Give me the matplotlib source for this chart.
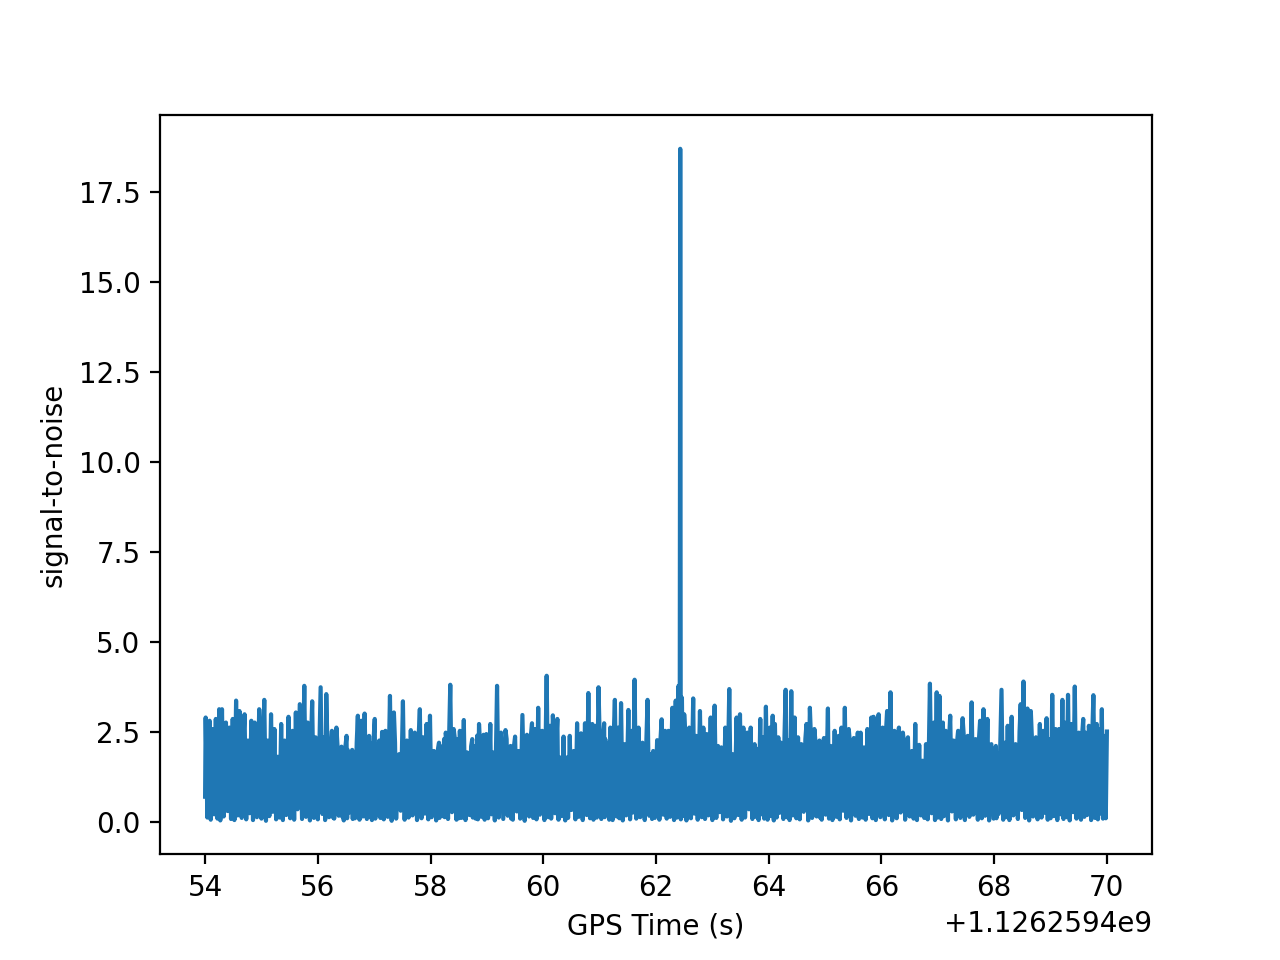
import numpy as np
import matplotlib
matplotlib.use("Agg")
import matplotlib.pyplot as plt

# GPS epoch of the segment; times below are seconds after it
GPS_BASE = 1126259400

# local maxima of the SNR trace
peak_t = [
    54.01, 54.08, 54.13, 54.19, 54.25, 54.30, 54.37, 54.43, 54.49, 54.55, 54.61, 54.70, 54.76, 54.82, 54.88, 54.96,
    55.05, 55.11, 55.17, 55.23, 55.29, 55.35, 55.41, 55.48, 55.55, 55.61, 55.68, 55.76, 55.82, 55.90, 55.96,
    56.05, 56.11, 56.15, 56.25, 56.33, 56.42, 56.51, 56.61, 56.71, 56.77, 56.83, 56.91,
    57.01, 57.09, 57.14, 57.20, 57.28, 57.35, 57.44, 57.51, 57.58, 57.65, 57.72, 57.81, 57.87, 57.93, 57.99,
    58.06, 58.15, 58.27, 58.35, 58.41, 58.52, 58.59, 58.65, 58.74, 58.86, 58.94, 58.99,
    59.06, 59.11, 59.18, 59.25, 59.33, 59.42, 59.50, 59.56, 59.63, 59.71, 59.80, 59.85, 59.91, 59.98,
    60.06, 60.12, 60.17, 60.25, 60.30, 60.36, 60.42, 60.47, 60.54, 60.60, 60.67, 60.74, 60.80, 60.87, 60.92, 60.98,
    61.08, 61.19, 61.27, 61.33, 61.38, 61.44, 61.51, 61.57, 61.62, 61.69, 61.76, 61.85, 61.91, 61.95,
    62.02, 62.10, 62.16, 62.22, 62.29, 62.35, 62.40, 62.43, 62.46, 62.50, 62.59, 62.66, 62.71, 62.78, 62.84, 62.90, 62.97,
    63.04, 63.10, 63.16, 63.23, 63.30, 63.36, 63.43, 63.49, 63.55, 63.62, 63.68, 63.75, 63.79, 63.85, 63.90, 63.95,
    64.02, 64.07, 64.11, 64.17, 64.22, 64.30, 64.35, 64.40, 64.46, 64.52, 64.58, 64.67, 64.73, 64.81, 64.90, 64.98,
    65.05, 65.10, 65.17, 65.24, 65.29, 65.35, 65.42, 65.51, 65.58, 65.63, 65.69, 65.75, 65.82, 65.86, 65.95,
    66.02, 66.10, 66.16, 66.23, 66.31, 66.38, 66.47, 66.54, 66.60, 66.67, 66.73, 66.79, 66.86, 66.93, 66.98,
    67.03, 67.09, 67.14, 67.22, 67.28, 67.36, 67.44, 67.53, 67.60, 67.67, 67.75, 67.81, 67.88, 67.95,
    68.03, 68.13, 68.19, 68.24, 68.31, 68.38, 68.47, 68.52, 68.59, 68.65, 68.74, 68.81, 68.87, 68.93, 68.97,
    69.03, 69.09, 69.15, 69.21, 69.25, 69.31, 69.37, 69.43, 69.50, 69.58, 69.62, 69.68, 69.76, 69.82, 69.86, 69.91, 69.95, 70.00,
]
peak_snr = [
    2.90, 2.81, 2.58, 2.86, 3.13, 3.13, 2.76, 2.62, 2.86, 3.37, 3.08, 2.99, 2.26, 2.81, 2.76, 3.13,
    3.39, 2.26, 2.99, 2.58, 1.81, 2.72, 2.26, 2.92, 2.53, 3.04, 3.27, 3.78, 2.76, 3.35, 2.35,
    3.74, 2.35, 3.55, 2.53, 2.62, 2.09, 2.39, 2.00, 2.95, 2.81, 3.01, 2.39,
    2.86, 2.26, 2.50, 2.53, 3.50, 3.04, 1.88, 3.35, 2.26, 2.55, 2.48, 3.13, 2.35, 2.72, 2.95,
    1.97, 2.20, 2.48, 3.81, 2.58, 2.53, 2.83, 1.93, 2.30, 2.72, 2.42, 2.44,
    2.72, 1.93, 3.78, 2.48, 2.55, 2.11, 2.37, 1.97, 2.97, 2.42, 2.74, 2.58, 3.17, 2.53,
    4.06, 2.67, 2.96, 2.86, 1.79, 2.37, 1.79, 2.39, 1.97, 2.74, 2.46, 2.74, 3.58, 2.72, 2.67, 3.74,
    2.74, 2.62, 3.39, 2.62, 3.30, 2.16, 3.11, 2.53, 3.95, 2.62, 2.20, 3.39, 1.88, 1.97,
    2.27, 2.85, 2.53, 2.53, 3.17, 3.37, 3.78, 18.70, 3.45, 2.99, 2.62, 3.43, 2.39, 3.08, 2.62, 2.44, 2.90,
    3.23, 2.11, 2.07, 2.62, 3.69, 1.88, 2.90, 2.99, 2.62, 2.48, 2.62, 2.16, 2.03, 2.86, 2.35, 3.20,
    2.62, 2.95, 2.72, 2.35, 2.20, 3.67, 2.26, 3.63, 2.90, 2.35, 2.16, 2.72, 3.17, 2.58, 2.26, 2.33,
    3.15, 2.11, 2.53, 2.39, 2.62, 3.17, 2.58, 2.33, 2.48, 2.48, 2.07, 2.58, 2.90, 2.92, 2.99,
    2.62, 3.08, 3.60, 2.53, 2.62, 2.48, 2.35, 1.97, 2.72, 2.14, 1.70, 2.16, 3.84, 2.76, 3.60,
    3.50, 2.76, 2.53, 2.95, 2.26, 2.53, 2.88, 2.39, 3.32, 2.30, 2.81, 3.13, 2.86, 2.16,
    2.11, 3.67, 2.20, 2.67, 2.92, 2.16, 3.27, 3.90, 3.15, 3.08, 2.35, 2.72, 2.53, 2.88, 2.30,
    3.53, 2.58, 2.58, 3.39, 2.76, 3.53, 2.72, 3.76, 2.48, 2.86, 2.48, 2.67, 3.52, 2.72, 2.58, 3.13, 2.39, 2.51,
]

# smaller maxima inside the wider gaps, where the band stays filled
shoulder_t = [
    54.63, 54.675, 54.98, 55.03, 55.84, 55.88, 55.98, 56.03, 56.17, 56.23, 56.28, 56.35, 56.40,
    56.44, 56.49, 56.53, 56.59, 56.63, 56.69, 56.93, 56.99, 57.03, 57.07, 57.37, 57.42,
    57.74, 57.79, 58.08, 58.13, 58.18, 58.24, 58.29, 58.33, 58.44, 58.49, 58.67, 58.72,
    58.77, 58.83, 58.88, 58.92, 59.35, 59.40, 59.44, 59.48, 59.73, 59.78, 60.19, 60.23,
    61.00, 61.06, 61.10, 61.16, 61.21, 61.25, 61.78, 61.83, 62.04, 62.08, 62.52, 62.57,
    64.24, 64.28, 64.60, 64.65, 64.75, 64.79, 64.83, 64.88, 64.92, 64.96, 65.44, 65.49,
    65.88, 65.93, 66.04, 66.08, 66.25, 66.29, 66.40, 66.45, 67.16, 67.20, 67.30, 67.34,
    67.38, 67.42, 67.46, 67.51, 67.69, 67.73, 68.05, 68.11, 68.40, 68.45, 68.67, 68.72,
    69.52, 69.56, 69.70, 69.74,
]
shoulder_snr = [
    2.30, 2.10, 2.40, 2.20, 2.20, 2.30, 2.00, 2.30, 2.20, 2.00, 1.70, 2.10, 1.90,
    1.90, 2.10, 2.00, 1.80, 1.90, 2.20, 2.20, 2.30, 2.10, 2.00, 2.20, 1.80,
    2.20, 2.40, 1.90, 2.00, 2.10, 2.30, 2.20, 2.40, 2.20, 2.30, 1.90, 2.10,
    2.10, 2.40, 2.10, 2.20, 2.30, 1.80, 1.90, 2.10, 2.20, 2.40, 2.30, 2.20,
    2.40, 2.30, 2.30, 2.20, 2.10, 2.40, 2.00, 2.30, 2.00, 2.30, 2.40, 2.30,
    2.00, 2.40, 2.00, 2.30, 2.30, 2.10, 2.20, 2.00, 2.00, 2.10, 2.20, 2.10,
    2.40, 2.50, 2.30, 2.50, 2.20, 2.30, 2.20, 2.10, 2.20, 2.30, 2.10, 2.20,
    2.30, 2.40, 2.40, 2.10, 2.00, 2.30, 1.90, 2.30, 2.00, 2.50, 2.30, 2.20,
    2.20, 2.40, 2.30, 2.40,
]

# local minima between the peaks
trough_t = [
    54.00, 54.04, 54.10, 54.16, 54.22, 54.27, 54.33, 54.40, 54.46, 54.52, 54.58, 54.65, 54.73, 54.79, 54.85, 54.92,
    55.00, 55.08, 55.14, 55.20, 55.26, 55.32, 55.38, 55.44, 55.51, 55.58, 55.64, 55.72, 55.79, 55.86, 55.93,
    56.00, 56.08, 56.13, 56.20, 56.29, 56.37, 56.46, 56.56, 56.66, 56.74, 56.80, 56.87,
    56.96, 57.05, 57.11, 57.17, 57.24, 57.31, 57.39, 57.47, 57.54, 57.61, 57.68, 57.76, 57.84, 57.90, 57.96,
    58.02, 58.10, 58.21, 58.31, 58.38, 58.46, 58.55, 58.62, 58.69, 58.80, 58.90, 58.96,
    59.02, 59.08, 59.14, 59.21, 59.29, 59.37, 59.46, 59.53, 59.59, 59.67, 59.75, 59.82, 59.88, 59.94,
    60.02, 60.09, 60.14, 60.21, 60.27, 60.33, 60.39, 60.44, 60.50, 60.57, 60.63, 60.70, 60.77, 60.83, 60.89, 60.95,
    61.03, 61.13, 61.23, 61.30, 61.35, 61.41, 61.47, 61.54, 61.59, 61.65, 61.72, 61.80, 61.88, 61.93,
    61.98, 62.06, 62.13, 62.19, 62.25, 62.32, 62.37, 62.42, 62.44, 62.48, 62.54, 62.62, 62.68, 62.74, 62.81, 62.87, 62.93,
    63.00, 63.07, 63.13, 63.19, 63.26, 63.33, 63.39, 63.46, 63.52, 63.58, 63.65, 63.71, 63.77, 63.82, 63.87, 63.92,
    63.98, 64.04, 64.09, 64.14, 64.19, 64.26, 64.32, 64.37, 64.43, 64.49, 64.55, 64.62, 64.70, 64.77, 64.85, 64.94,
    65.01, 65.07, 65.13, 65.20, 65.26, 65.32, 65.38, 65.46, 65.54, 65.60, 65.66, 65.72, 65.78, 65.84, 65.90,
    65.98, 66.06, 66.13, 66.19, 66.27, 66.34, 66.42, 66.50, 66.57, 66.63, 66.70, 66.76, 66.82, 66.89, 66.95,
    67.00, 67.06, 67.11, 67.18, 67.25, 67.32, 67.40, 67.48, 67.56, 67.63, 67.71, 67.78, 67.84, 67.91,
    67.99, 68.08, 68.16, 68.21, 68.27, 68.34, 68.42, 68.49, 68.55, 68.62, 68.69, 68.77, 68.84, 68.90, 68.95,
    69.00, 69.06, 69.12, 69.18, 69.23, 69.28, 69.34, 69.40, 69.46, 69.54, 69.60, 69.65, 69.72, 69.79, 69.84, 69.88, 69.93, 69.98,
]
trough_snr = [
    0.70, 0.12, 0.06, 0.21, 0.09, 0.04, 0.15, 0.30, 0.08, 0.05, 0.18, 0.11, 0.07, 0.24, 0.05, 0.13,
    0.09, 0.03, 0.16, 0.28, 0.07, 0.12, 0.05, 0.19, 0.10, 0.06, 0.35, 0.08, 0.14, 0.04, 0.11,
    0.07, 0.22, 0.05, 0.13, 0.09, 0.17, 0.04, 0.26, 0.10, 0.06, 0.15, 0.08,
    0.05, 0.20, 0.11, 0.07, 0.14, 0.03, 0.09, 0.31, 0.06, 0.12, 0.18, 0.05, 0.10, 0.23, 0.07,
    0.13, 0.04, 0.16, 0.08, 0.27, 0.06, 0.11, 0.05, 0.19, 0.09, 0.14, 0.06,
    0.10, 0.21, 0.04, 0.12, 0.08, 0.17, 0.06, 0.29, 0.09, 0.03, 0.15, 0.11, 0.07, 0.20,
    0.05, 0.13, 0.09, 0.24, 0.06, 0.16, 0.04, 0.11, 0.33, 0.07, 0.14, 0.05, 0.19, 0.10, 0.06, 0.12,
    0.08, 0.22, 0.05, 0.15, 0.10, 0.04, 0.18, 0.07, 0.26, 0.09, 0.13, 0.05, 0.17, 0.08,
    0.11, 0.06, 0.20, 0.09, 0.14, 0.05, 0.12, 0.30, 0.07, 0.16, 0.04, 0.10, 0.23, 0.06, 0.13, 0.08, 0.18,
    0.05, 0.11, 0.27, 0.07, 0.15, 0.03, 0.10, 0.19, 0.06, 0.12, 0.35, 0.08, 0.14, 0.05, 0.21, 0.09,
    0.06, 0.16, 0.04, 0.12, 0.25, 0.08, 0.13, 0.05, 0.18, 0.10, 0.07, 0.28, 0.04, 0.11, 0.15, 0.06,
    0.20, 0.09, 0.05, 0.14, 0.07, 0.31, 0.11, 0.04, 0.17, 0.08, 0.12, 0.06, 0.22, 0.10, 0.05,
    0.13, 0.07, 0.19, 0.04, 0.10, 0.26, 0.06, 0.15, 0.09, 0.05, 0.18, 0.11, 0.07, 0.24, 0.05,
    0.12, 0.08, 0.16, 0.04, 0.29, 0.07, 0.11, 0.05, 0.14, 0.20, 0.06, 0.10, 0.17, 0.04,
    0.09, 0.22, 0.06, 0.13, 0.05, 0.18, 0.08, 0.33, 0.11, 0.04, 0.15, 0.07, 0.12, 0.25, 0.06,
    0.10, 0.16, 0.05, 0.21, 0.08, 0.13, 0.04, 0.27, 0.09, 0.06, 0.14, 0.19, 0.05, 0.11, 0.07, 0.23, 0.09, 0.10,
]

# extra short dips right next to some peaks
dip_t = [
    56.27, 56.43, 56.52, 56.62, 56.92, 57.02, 58.16, 58.25,
    58.50, 58.75, 58.84, 59.43, 61.09, 61.17, 64.91, 68.04,
]
dip_snr = [
    0.12, 0.15, 0.10, 0.08, 0.14, 0.09, 0.11, 0.13,
    0.10, 0.12, 0.07, 0.09, 0.13, 0.06, 0.12, 0.10,
]


def main():
    # merge all the extrema into one time-ordered trace
    t = np.concatenate([peak_t, shoulder_t, trough_t, dip_t])
    snr = np.concatenate([peak_snr, shoulder_snr, trough_snr, dip_snr])
    order = np.argsort(t, kind="stable")
    times = GPS_BASE + t[order]
    snr = snr[order]

    fig = plt.figure(figsize=(6.4, 4.8), dpi=200)
    plt.plot(times, snr)
    plt.ylabel('signal-to-noise')
    plt.xlabel('GPS Time (s)')
    fig.savefig("out.png", dpi=200)


if __name__ == "__main__":
    main()
